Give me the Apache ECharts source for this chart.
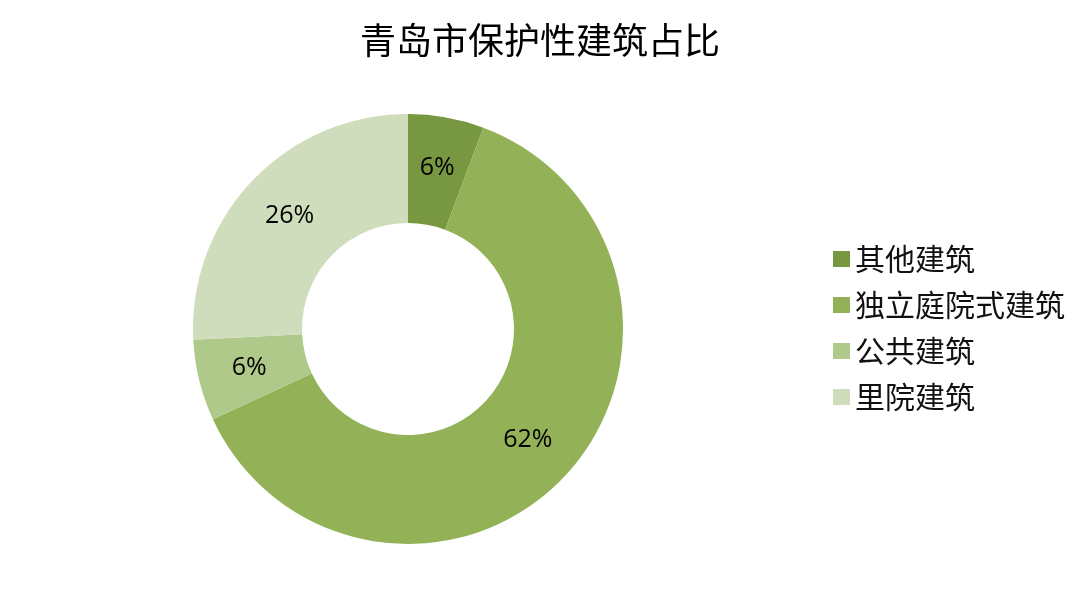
<!DOCTYPE html>
<html>
<head>
<meta charset="utf-8">
<script src="https://cdn.jsdelivr.net/npm/echarts@6/dist/echarts.min.js"></script>
<style>
  html, body { margin: 0; padding: 0; background: #fff; }
  #chart { width: 1080px; height: 594px; }
</style>
</head>
<body>
<div id="chart"></div>
<script>
// data
const categories = ['其他建筑', '独立庭院式建筑', '公共建筑', '里院建筑'];
const shares = [5.7, 62.4, 6.1, 25.8];
const colors = ['#789741', '#93B257', '#AEC98A', '#CFDDBC'];

let chart = echarts.init(document.getElementById('chart'));

let pieData = [];
for (let i = 0; i < categories.length; i++) {
    pieData.push({
        name: categories[i],
        value: shares[i],
        itemStyle: { color: colors[i] }
    });
}

chart.setOption({
    animation: false,
    title: {
        text: '青岛市保护性建筑占比',
        left: 'center',
        top: 17,
        textStyle: {
            fontFamily: 'Noto Sans CJK SC',
            fontSize: 36,
            fontWeight: 'normal',
            color: '#000'
        }
    },
    legend: {
        orient: 'vertical',
        left: 828,
        top: 239,
        itemWidth: 17,
        itemHeight: 16,
        itemGap: 16,
        icon: 'rect',
        data: categories,
        textStyle: {
            fontFamily: 'Noto Sans CJK SC',
            fontSize: 30,
            color: '#111'
        }
    },
    series: [{
        type: 'pie',
        center: [408, 329],
        radius: [106, 215],
        startAngle: 90,
        clockwise: true,
        data: pieData,
        label: {
            position: 'inside',
            formatter: function (p) {
                return Math.round(p.value) + '%';
            },
            fontFamily: 'Open Sans',
            fontSize: 25,
            color: '#000'
        },
        labelLine: { show: false },
        emphasis: { disabled: true }
    }]
});
</script>
</body>
</html>
